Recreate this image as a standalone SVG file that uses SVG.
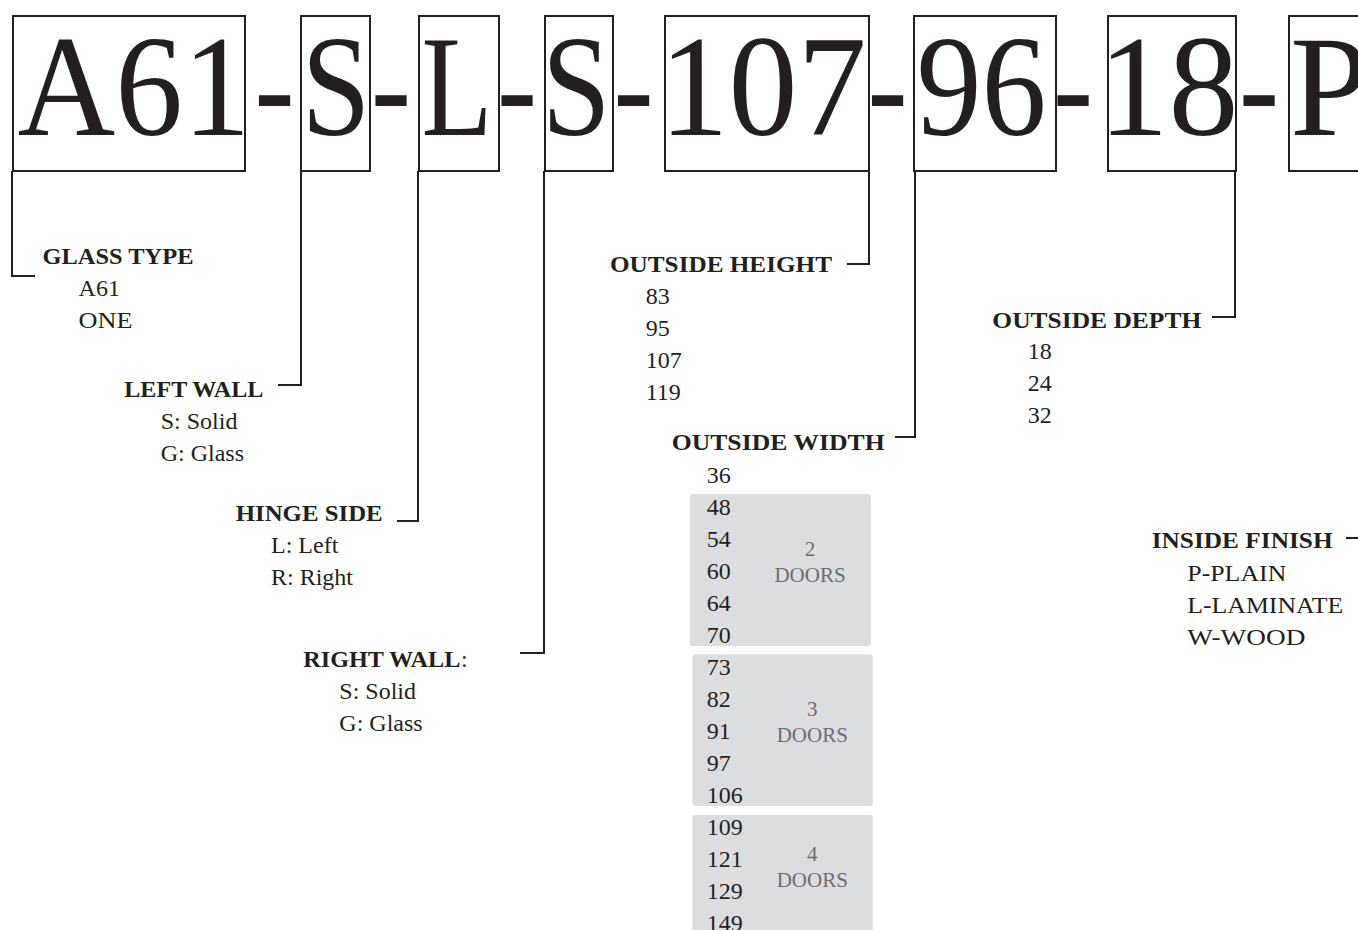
<svg xmlns="http://www.w3.org/2000/svg" width="1358" height="930" viewBox="0 0 1358 930">
<style>
.box{fill:none;stroke:#231f20;stroke-width:2}
.big{font-family:"Liberation Serif",serif;font-size:143px;fill:#231f20}
.con{fill:none;stroke:#231f20;stroke-width:2}
.h{font-family:"Liberation Serif",serif;font-size:24px;font-weight:bold;fill:#231f20}
.t{font-family:"Liberation Serif",serif;font-size:24px;fill:#231f20}
.panel{fill:#dcdddf}
.g{font-family:"Liberation Serif",serif;font-size:21px;fill:#6d6e71;text-anchor:middle}
</style>
<rect width="1358" height="930" fill="#ffffff"/>
<g id="code">
<rect class="box" x="13" y="16" width="232" height="155"/>
<text class="big" x="17.5" y="135" textLength="233" lengthAdjust="spacingAndGlyphs">A61</text>
<text class="big" x="254.5" y="135" textLength="40" lengthAdjust="spacingAndGlyphs">-</text>
<rect class="box" x="301" y="16" width="69" height="155"/>
<text class="big" x="301.4" y="135" textLength="69" lengthAdjust="spacingAndGlyphs">S</text>
<text class="big" x="371" y="135" textLength="40" lengthAdjust="spacingAndGlyphs">-</text>
<rect class="box" x="419" y="16" width="80" height="155"/>
<text class="big" x="421.6" y="135" textLength="71" lengthAdjust="spacingAndGlyphs">L</text>
<text class="big" x="497" y="135" textLength="40" lengthAdjust="spacingAndGlyphs">-</text>
<rect class="box" x="545" y="16" width="68" height="155"/>
<text class="big" x="541.8" y="135" textLength="69" lengthAdjust="spacingAndGlyphs">S</text>
<text class="big" x="613.5" y="135" textLength="40" lengthAdjust="spacingAndGlyphs">-</text>
<rect class="box" x="665" y="16" width="204" height="155"/>
<text class="big" x="659.4" y="135" textLength="207" lengthAdjust="spacingAndGlyphs">107</text>
<text class="big" x="867.5" y="135" textLength="40" lengthAdjust="spacingAndGlyphs">-</text>
<rect class="box" x="914" y="16" width="142" height="155"/>
<text class="big" x="916.6" y="135" textLength="130" lengthAdjust="spacingAndGlyphs">96</text>
<text class="big" x="1053" y="135" textLength="40" lengthAdjust="spacingAndGlyphs">-</text>
<rect class="box" x="1108" y="16" width="128" height="155"/>
<text class="big" x="1098.5" y="135" textLength="140" lengthAdjust="spacingAndGlyphs">18</text>
<text class="big" x="1239" y="135" textLength="40" lengthAdjust="spacingAndGlyphs">-</text>
<rect class="box" x="1289" y="16" width="100" height="155"/>
<text class="big" x="1290" y="135">P</text>
</g>
<g id="connectors">
<path class="con" d="M12,171 V276 H35"/>
<path class="con" d="M301,171 V385 H278"/>
<path class="con" d="M418,171 V521 H397"/>
<path class="con" d="M544,171 V653 H520"/>
<path class="con" d="M869,171 V264 H847"/>
<path class="con" d="M915,171 V437 H895"/>
<path class="con" d="M1235,171 V317 H1212"/>
<path class="con" d="M1346,538 H1360"/>
</g>
<g id="glass-type">
<text class="h" x="42.5" y="264" textLength="151" lengthAdjust="spacingAndGlyphs">GLASS TYPE</text>
<text class="t" x="78.6" y="296">A61</text>
<text class="t" x="78.6" y="328" textLength="54" lengthAdjust="spacingAndGlyphs">ONE</text>
</g>
<g id="left-wall">
<text class="h" x="124.3" y="396.5" textLength="139" lengthAdjust="spacingAndGlyphs">LEFT WALL</text>
<text class="t" x="160.7" y="428.5">S: Solid</text>
<text class="t" x="160.7" y="460.5">G: Glass</text>
</g>
<g id="hinge-side">
<text class="h" x="235.7" y="521" textLength="147" lengthAdjust="spacingAndGlyphs">HINGE SIDE</text>
<text class="t" x="271" y="553">L: Left</text>
<text class="t" x="271" y="585">R: Right</text>
</g>
<g id="right-wall">
<text class="h" x="303.3" y="666.5" textLength="157" lengthAdjust="spacingAndGlyphs">RIGHT WALL</text>
<text class="t" x="461" y="666.5">:</text>
<text class="t" x="339.3" y="698.5">S: Solid</text>
<text class="t" x="339.3" y="730.5">G: Glass</text>
</g>
<g id="outside-height">
<text class="h" x="610" y="271.5" textLength="222" lengthAdjust="spacingAndGlyphs">OUTSIDE HEIGHT</text>
<text class="t" x="645.7" y="303.5">83</text>
<text class="t" x="645.7" y="335.5">95</text>
<text class="t" x="645.7" y="367.5">107</text>
<text class="t" x="645.7" y="399.5">119</text>
</g>
<g id="outside-width">
<text class="h" x="671.7" y="450" textLength="213" lengthAdjust="spacingAndGlyphs">OUTSIDE WIDTH</text>
<rect class="panel" x="690" y="494" width="181" height="152" rx="3"/>
<rect class="panel" x="692.3" y="654.3" width="180.4" height="151.7" rx="3"/>
<rect class="panel" x="692.3" y="815" width="180.4" height="130" rx="3"/>
<text class="t" x="706.7" y="483">36</text>
<text class="t" x="706.7" y="515">48</text>
<text class="t" x="706.7" y="547">54</text>
<text class="t" x="706.7" y="579">60</text>
<text class="t" x="706.7" y="611">64</text>
<text class="t" x="706.7" y="643">70</text>
<text class="t" x="706.7" y="675">73</text>
<text class="t" x="706.7" y="707">82</text>
<text class="t" x="706.7" y="739">91</text>
<text class="t" x="706.7" y="771">97</text>
<text class="t" x="706.7" y="803">106</text>
<text class="t" x="706.7" y="835">109</text>
<text class="t" x="706.7" y="867">121</text>
<text class="t" x="706.7" y="899">129</text>
<text class="t" x="706.7" y="931">149</text>
<text class="g" x="810" y="556">2</text>
<text class="g" x="810" y="582.3">DOORS</text>
<text class="g" x="812.3" y="716">3</text>
<text class="g" x="812.3" y="741.7">DOORS</text>
<text class="g" x="812.3" y="861">4</text>
<text class="g" x="812.3" y="886.7">DOORS</text>
</g>
<g id="outside-depth">
<text class="h" x="992.3" y="328.3" textLength="209" lengthAdjust="spacingAndGlyphs">OUTSIDE DEPTH</text>
<text class="t" x="1027.7" y="359.3">18</text>
<text class="t" x="1027.7" y="391.3">24</text>
<text class="t" x="1027.7" y="423.3">32</text>
</g>
<g id="inside-finish">
<text class="h" x="1151.7" y="548.3" textLength="181" lengthAdjust="spacingAndGlyphs">INSIDE FINISH</text>
<text class="t" x="1187.3" y="581" textLength="99" lengthAdjust="spacingAndGlyphs">P-PLAIN</text>
<text class="t" x="1187.3" y="613" textLength="156" lengthAdjust="spacingAndGlyphs">L-LAMINATE</text>
<text class="t" x="1187.3" y="645" textLength="118" lengthAdjust="spacingAndGlyphs">W-WOOD</text>
</g>
</svg>
